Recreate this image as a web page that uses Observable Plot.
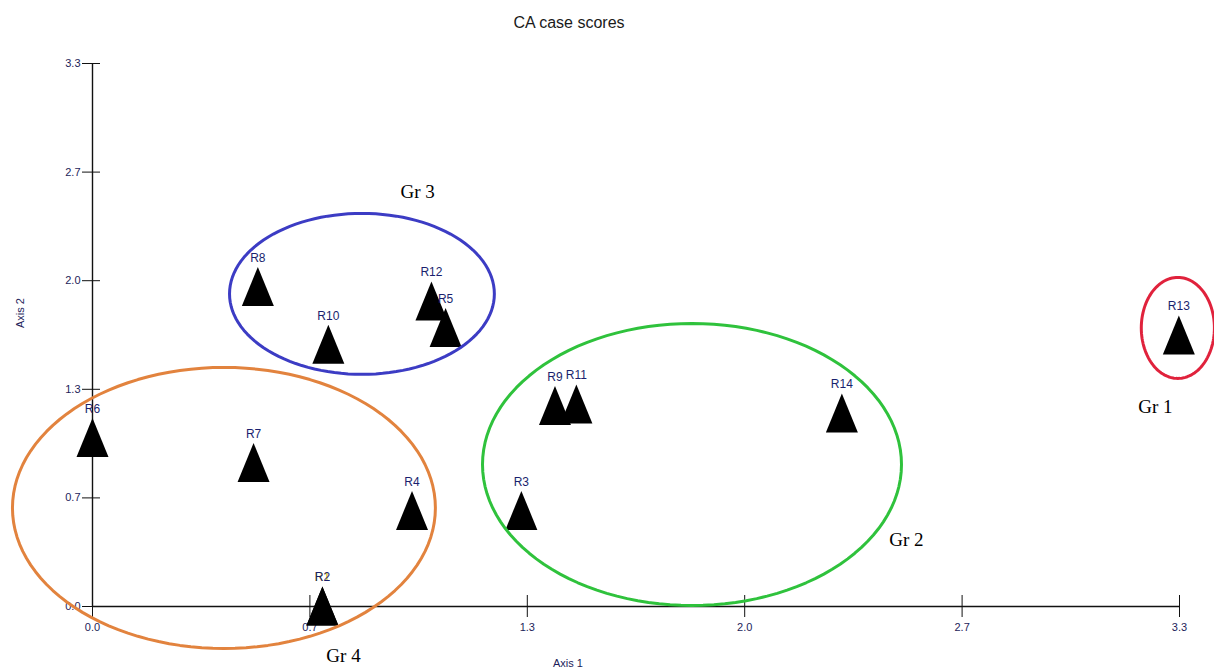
<!DOCTYPE html>
<html>
<head>
<meta charset="utf-8">
<script src="https://cdn.jsdelivr.net/npm/d3@7"></script>
<script src="https://cdn.jsdelivr.net/npm/@observablehq/plot@0.6"></script>
<style>
  html, body { margin: 0; padding: 0; background: #fff; }
</style>
</head>
<body>
<div id="chart"></div>
<script>
// ---- data ----
const caseIds = ["R1","R2","R3","R4","R5","R6","R7","R8","R9","R10","R11","R12","R13","R14"];
const axis1Scores = [0.698, 0.698, 1.302, 0.970, 1.072, 0.000, 0.489, 0.502, 1.404, 0.716, 1.469, 1.029, 3.298, 2.275];
const axis2Scores = [0.000, 0.000, 0.581, 0.581, 1.693, 1.024, 0.872, 1.942, 1.219, 1.590, 1.228, 1.854, 1.647, 1.173];
const labelColors = ["#c9b800","#1a1f6e","#1a1f6e","#1a1f6e","#1a1f6e","#1a1f6e","#1a1f6e","#1a1f6e","#1a1f6e","#1a1f6e","#1a1f6e","#1a1f6e","#1a1f6e","#1a1f6e"];

const tickValues = [0, 0.66, 1.32, 1.98, 2.64, 3.3];
const tickLabels = ["0.0", "0.7", "1.3", "2.0", "2.7", "3.3"];

const groupNames  = ["Gr 1", "Gr 2", "Gr 3", "Gr 4"];
const groupCx     = [3.295, 1.820, 0.818, 0.399];
const groupCy     = [1.693, 0.863, 1.900, 0.599];
const groupRx     = [0.111, 0.636, 0.402, 0.642];
const groupRy     = [0.307, 0.857, 0.489, 0.854];
const groupColors = ["#e0223c", "#2fc23c", "#3c3cc4", "#e2833e"];
const groupLabelX = [3.227, 2.471, 0.987, 0.762];
const groupLabelY = [1.210, 0.407, 2.517, -0.298];

// ---- tables ----
const cases = caseIds.map((id, i) => ({id, x: axis1Scores[i], y: axis2Scores[i], c: labelColors[i]}));
const groups = groupNames.map((name, i) => ({
  name, cx: groupCx[i], cy: groupCy[i], rx: groupRx[i], ry: groupRy[i],
  color: groupColors[i], lx: groupLabelX[i], ly: groupLabelY[i]
}));
// ellipse outlines (geometry of the group annotations)
const outline = [];
groups.forEach(g => {
  for (let k = 0; k <= 120; k++) {
    const t = (k / 120) * 2 * Math.PI;
    outline.push({name: g.name, color: g.color, x: g.cx + g.rx * Math.cos(t), y: g.cy + g.ry * Math.sin(t)});
  }
});

const tallTriangle = {
  draw(context, size) {
    context.moveTo(0, -20);
    context.lineTo(16, 19);
    context.lineTo(-16, 19);
    context.closePath();
  }
};

const fmt = d => tickLabels[tickValues.indexOf(d)];

const chart = Plot.plot({
  width: 1214,
  height: 670,
  marginTop: 63,
  marginBottom: 64,
  marginLeft: 92,
  marginRight: 35,
  style: {fontFamily: "'Liberation Sans', Arial, sans-serif", fontSize: "11px", background: "#fff", color: "#1d1d5a"},
  x: {domain: [0, 3.3]},
  y: {domain: [0, 3.3]},
  marks: [
    Plot.ruleX([0], {stroke: "#111", strokeWidth: 1.4}),
    Plot.ruleY([0], {stroke: "#111", strokeWidth: 1.4}),
    Plot.axisX({ticks: tickValues, tickFormat: fmt, tickSize: 22, dy: -11, tickPadding: 6, label: null,
                stroke: "#111", fill: "#1d1d5a", fontSize: 11}),
    Plot.axisY({ticks: tickValues, tickFormat: fmt, tickSize: 18, dx: 8, tickPadding: 2, label: null,
                stroke: "#111", fill: "#1d1d5a", fontSize: 11}),
    Plot.dot(cases, {x: "x", y: "y", symbol: tallTriangle, fill: "#000", stroke: "none", r: 10}),
    Plot.text(cases, {x: "x", y: "y", text: "id", dy: -29, fill: "c", fontSize: 12}),
    Plot.line(outline, {x: "x", y: "y", z: "name", stroke: "color", strokeWidth: 3, curve: "linear"}),
    Plot.text(groups, {x: "lx", y: "ly", text: "name", fill: "#000", fontSize: 19,
                       fontFamily: "'Liberation Serif', 'Times New Roman', serif"}),
    Plot.text(["CA case scores"], {frameAnchor: "top", lineAnchor: "middle", dx: -67, dy: -41, fontSize: 16, fill: "#1a1a1a"}),
    Plot.text(["Axis 1"], {frameAnchor: "bottom", lineAnchor: "middle", dx: -68, dy: 57, fontSize: 11, fill: "#1d1d5a"}),
    Plot.text(["Axis 2"], {frameAnchor: "left", textAnchor: "middle", dx: -72, dy: -22, rotate: -90, fontSize: 11, fill: "#1d1d5a"})
  ]
});
document.getElementById("chart").appendChild(chart);
</script>
</body>
</html>
